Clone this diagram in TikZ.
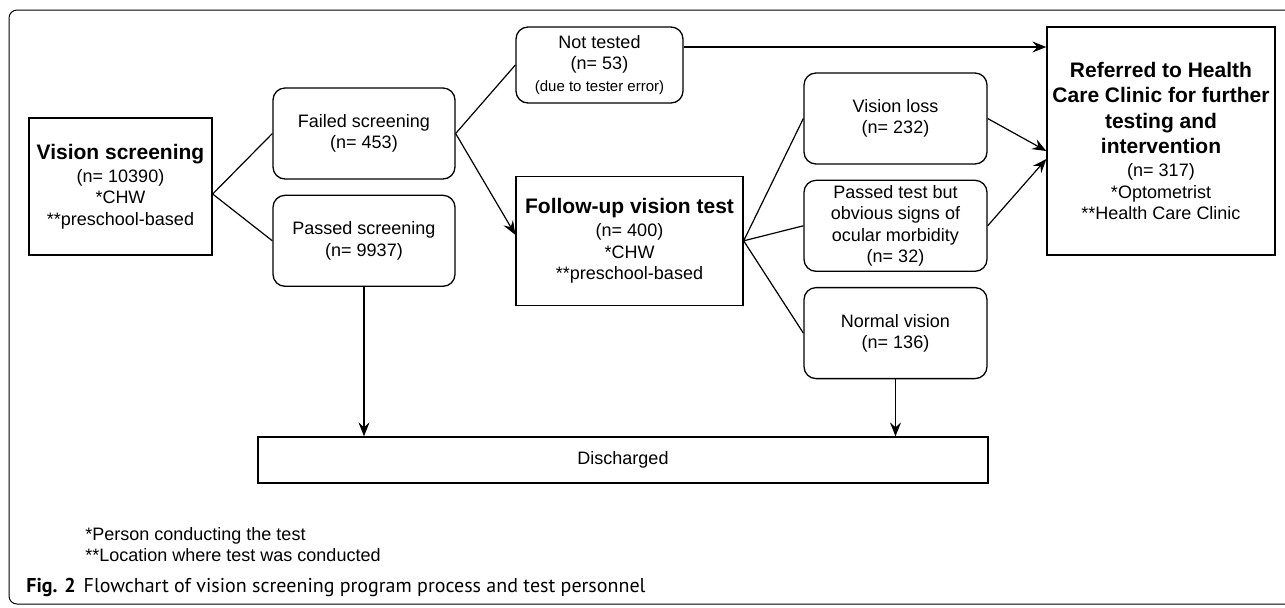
\documentclass[tikz,border=0pt]{standalone}
\usepackage{fontspec}
\setmainfont{Liberation Sans}
\newfontfamily\capfont{PT Sans}
\usetikzlibrary{arrows.meta,positioning}
\newcommand{\vsnormal}{\fontsize{9pt}{10.7pt}\selectfont}
\newcommand{\vshead}{\fontsize{10.5pt}{12.3pt}\selectfont\bfseries}
\newcommand{\vssmall}{\fontsize{7.5pt}{10.5pt}\selectfont}
\tikzset{
  vsbox/.style={draw=black, line width=0.65pt, fill=white, align=center, inner sep=1pt, font=\vsnormal},
  vsround/.style={vsbox, rounded corners=6pt},
  vsline/.style={-{Stealth[length=7pt,width=5.5pt,inset=2.5pt]}, line width=0.6pt},
  vsedge/.style={line width=0.6pt},
  vsnote/.style={font=\vsnormal, anchor=base west, inner sep=0pt}
}

\begin{document}
\begin{tikzpicture}[x=0.5pt, y=-0.5pt]
  \useasboundingbox (0,0) rectangle (1285,607);
  \draw[line width=0.5pt, rounded corners=4pt] (9,10) rectangle (1300,604);

  % first screening
  \node[vsbox, minimum width=91.5pt, minimum height=68.5pt] (screen) at (120.5,186.5)
    {{\vshead Vision screening}\\[1pt](n= 10390)\\*CHW\\**preschool-based};
  \node[vsround, minimum width=91pt, minimum height=45.5pt] (failed) at (364,133.5)
    {Failed screening\\(n= 453)};
  \node[vsround, below=7.5pt of failed, minimum width=91pt, minimum height=45.5pt] (passed)
    {Passed screening\\(n= 9937)};

  % follow-up
  \node[vsround, minimum width=83.5pt, minimum height=38pt] (nottested) at (599.5,65)
    {Not tested\\(n= 53)\\{\vssmall (due to tester error)}};
  \node[vsbox, below=36pt of nottested.south west, anchor=north west, minimum width=113.5pt, minimum height=64.5pt] (followup)
    {{\vshead Follow-up vision test}\\[1pt](n= 400)\\*CHW\\**preschool-based};

  \node[vsround, minimum width=91.5pt, minimum height=45.5pt] (loss) at (895.5,118.5)
    {Vision loss\\(n= 232)};
  \node[vsround, below=7.5pt of loss, minimum width=91.5pt, minimum height=45.5pt] (signs)
    {Passed test but\\obvious signs of\\ocular morbidity\\(n= 32)};
  \node[vsround, below=7.5pt of signs, minimum width=91.5pt, minimum height=45.5pt] (normal)
    {Normal vision\\(n= 136)};

  \node[vsbox, minimum width=114pt, minimum height=114pt] (referred) at (1161,141)
    {{\vshead Referred to Health}\\[2pt]{\vshead Care Clinic for further}\\[2pt]{\vshead testing and}\\[2pt]{\vshead intervention}\\[1pt](n= 317)\\*Optometrist\\**Health Care Clinic};
  \node[vsbox, minimum width=365pt, minimum height=23pt] (discharged) at (623,460) {Discharged};

  % connectors
  \coordinate (split) at ([yshift=-3.75pt]screen.east);
  \draw[vsedge] (split) -- (failed.west);
  \draw[vsedge] (split) -- (passed.west);
  \draw[vsedge] (failed.east) -- (nottested.west);
  \draw[vsline] (failed.east) -- ([yshift=3pt]followup.west);
  \coordinate (ntout) at ([yshift=9pt]nottested.east);
  \draw[vsline] (ntout) -- (ntout -| referred.west);
  \draw[vsedge] (followup.east) -- (loss.west);
  \draw[vsedge] (followup.east) -- (signs.west);
  \draw[vsedge] (followup.east) -- (normal.west);
  \draw[vsline] (loss.east) -- ([yshift=-5pt]referred.west);
  \draw[vsline] (signs.east) -- ([yshift=-9pt]referred.west);
  \draw[vsline] (passed.south) -- (passed.south |- discharged.north);
  \draw[vsline] (normal.south) -- (normal.south |- discharged.north);

  % notes
  \node[vsnote] (note1) at (85,540) {*Person conducting the test};
  \node[vsnote] (note2) at (85,561) {**Location where test was conducted};
  \node[anchor=base west, inner sep=0pt, font=\capfont\fontsize{10pt}{12pt}\selectfont] (caption) at (26,592)
    {\textbf{Fig. 2}\hspace{4pt}Flowchart of vision screening program process and test personnel};
\end{tikzpicture}
\end{document}
